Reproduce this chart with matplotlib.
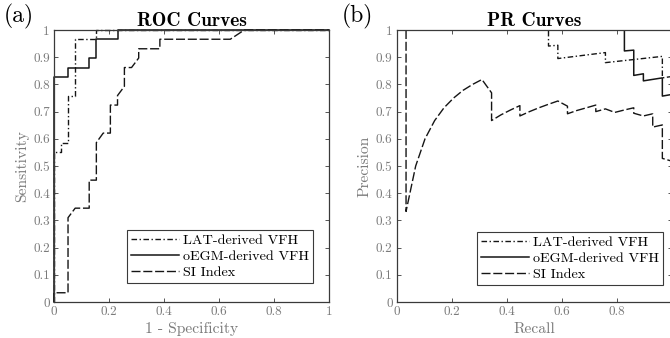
import matplotlib
matplotlib.use("Agg")
import matplotlib.pyplot as plt

# ---------------- data ----------------
series_names = ["LAT-derived VFH", "oEGM-derived VFH", "SI Index"]

roc_lat_fpr = [0, 0, 0.026, 0.026, 0.051, 0.051, 0.077, 0.077, 0.154, 0.154, 1.0]
roc_lat_tpr = [0, 0.552, 0.552, 0.586, 0.586, 0.759, 0.759, 0.966, 0.966, 1.0, 1.0]

roc_egm_fpr = [0, 0, 0.051, 0.051, 0.128, 0.128, 0.154, 0.154, 0.231, 0.231, 1.0]
roc_egm_tpr = [0, 0.828, 0.828, 0.862, 0.862, 0.897, 0.897, 0.966, 0.966, 1.0, 1.0]

roc_si_fpr = [0, 0, 0.051, 0.051, 0.077, 0.128, 0.128, 0.154, 0.154, 0.179, 0.205, 0.205,
              0.231, 0.231, 0.256, 0.256, 0.282, 0.308, 0.308, 0.385, 0.385, 0.641, 0.692, 1.0]
roc_si_tpr = [0, 0.034, 0.034, 0.310, 0.345, 0.345, 0.448, 0.448, 0.586, 0.621, 0.621, 0.724,
              0.724, 0.759, 0.793, 0.862, 0.862, 0.897, 0.931, 0.931, 0.966, 0.966, 1.0, 1.0]

pr_lat_rec = [0.034, 0.552, 0.552, 0.586, 0.586, 0.759, 0.759, 0.966, 0.966, 1.0, 1.0]
pr_lat_prec = [1.0, 1.0, 0.941, 0.944, 0.895, 0.917, 0.880, 0.903, 0.824, 0.829, 0.426]

pr_egm_rec = [0.034, 0.828, 0.828, 0.862, 0.862, 0.897, 0.897, 0.966, 0.966, 1.0, 1.0]
pr_egm_prec = [1.0, 1.0, 0.923, 0.926, 0.833, 0.839, 0.813, 0.824, 0.757, 0.763, 0.426]

pr_si_rec = [0.034, 0.034, 0.069, 0.103, 0.138, 0.172, 0.207, 0.241, 0.276, 0.310,
             0.345, 0.345, 0.379, 0.414, 0.448, 0.448, 0.483, 0.517, 0.552, 0.586,
             0.621, 0.621, 0.655, 0.690, 0.724, 0.724, 0.759, 0.793, 0.828, 0.862,
             0.862, 0.897, 0.931, 0.931, 0.966, 0.966, 1.0, 1.0]
pr_si_prec = [1.0, 0.333, 0.5, 0.6, 0.667, 0.714, 0.75, 0.778, 0.8, 0.818,
              0.769, 0.667, 0.688, 0.706, 0.722, 0.684, 0.7, 0.714, 0.727, 0.739,
              0.72, 0.692, 0.704, 0.714, 0.724, 0.7, 0.71, 0.697, 0.706, 0.714,
              0.694, 0.684, 0.692, 0.643, 0.651, 0.528, 0.518, 0.426]

x_ticks = [0, 0.2, 0.4, 0.6, 0.8, 1]
x_tick_labels = ["0", "0.2", "0.4", "0.6", "0.8", "1"]
y_ticks = [0, 0.1, 0.2, 0.3, 0.4, 0.5, 0.6, 0.7, 0.8, 0.9, 1]
y_tick_labels = ["0", "0.1", "0.2", "0.3", "0.4", "0.5", "0.6", "0.7", "0.8", "0.9", "1"]

# ---------------- style ----------------
plt.rcParams['font.family'] = ['cmr10', 'DejaVu Serif']
plt.rcParams['axes.formatter.use_mathtext'] = True

LINE_COLOR = "#151515"
SPINE_COLOR = "#3a3a3a"
TICK_TEXT = "#7a7a7a"
styles = [
    dict(linestyle=(0, (4, 1.8, 1, 1.8)), lw=1.0),
    dict(linestyle="-", lw=1.1),
    dict(linestyle=(0, (6.5, 2)), lw=1.0),
]

fig = plt.figure(figsize=(6.7, 3.38), dpi=100)
W, H = 670.0, 338.0

def make_ax(left_px):
    ax = fig.add_axes([left_px / W, 36 / H, 275 / W, 272 / H])
    ax.set_xlim(0, 1)
    ax.set_ylim(0, 1)
    ax.set_xticks(x_ticks)
    ax.set_xticklabels(x_tick_labels)
    ax.set_yticks(y_ticks)
    ax.set_yticklabels(y_tick_labels)
    ax.tick_params(direction="in", length=3, width=0.6, colors=SPINE_COLOR,
                   labelcolor=TICK_TEXT, labelsize=9.5, top=True, right=True,
                   pad=3)
    for s in ax.spines.values():
        s.set_color(SPINE_COLOR)
        s.set_linewidth(0.9)
    return ax

ax1 = make_ax(54)
ax2 = make_ax(396.7)

for xs, ys, name, st in zip([roc_lat_fpr, roc_egm_fpr, roc_si_fpr],
                            [roc_lat_tpr, roc_egm_tpr, roc_si_tpr],
                            series_names, styles):
    ax1.plot(xs, ys, color=LINE_COLOR, label=name, clip_on=False, **st)

for xs, ys, name, st in zip([pr_lat_rec, pr_egm_rec, pr_si_rec],
                            [pr_lat_prec, pr_egm_prec, pr_si_prec],
                            series_names, styles):
    ax2.plot(xs, ys, color=LINE_COLOR, label=name, **st)

lab_fs = 11.2
ax1.set_xlabel("1 - Specificity", fontsize=lab_fs, color=TICK_TEXT, labelpad=3)
ax1.set_ylabel("Sensitivity", fontsize=lab_fs, color=TICK_TEXT, labelpad=3)
ax2.set_xlabel("Recall", fontsize=lab_fs, color=TICK_TEXT, labelpad=3)
ax2.set_ylabel("Precision", fontsize=lab_fs, color=TICK_TEXT, labelpad=3)

ax1.set_title("ROC Curves", fontsize=14, family=['cmb10', 'DejaVu Serif'], pad=3)
ax2.set_title("PR Curves", fontsize=14, family=['cmb10', 'DejaVu Serif'], pad=3)

leg_kw = dict(loc="lower right", fontsize=10.2, handlelength=3.4, handletextpad=0.25,
              labelspacing=0.22, borderpad=0.3, fancybox=False, framealpha=1,
              edgecolor=SPINE_COLOR, borderaxespad=0)
l1 = ax1.legend(bbox_to_anchor=(0.941, 0.069), **leg_kw)
l2 = ax2.legend(bbox_to_anchor=(0.968, 0.0625), **leg_kw)
for l in (l1, l2):
    l.get_frame().set_linewidth(0.8)

fig.text(4 / W, 1 - 16 / H, "(a)", fontsize=17, va="center", ha="left")
fig.text(342 / W, 1 - 16 / H, "(b)", fontsize=17, va="center", ha="left")

fig.savefig("out.png", dpi=100)
